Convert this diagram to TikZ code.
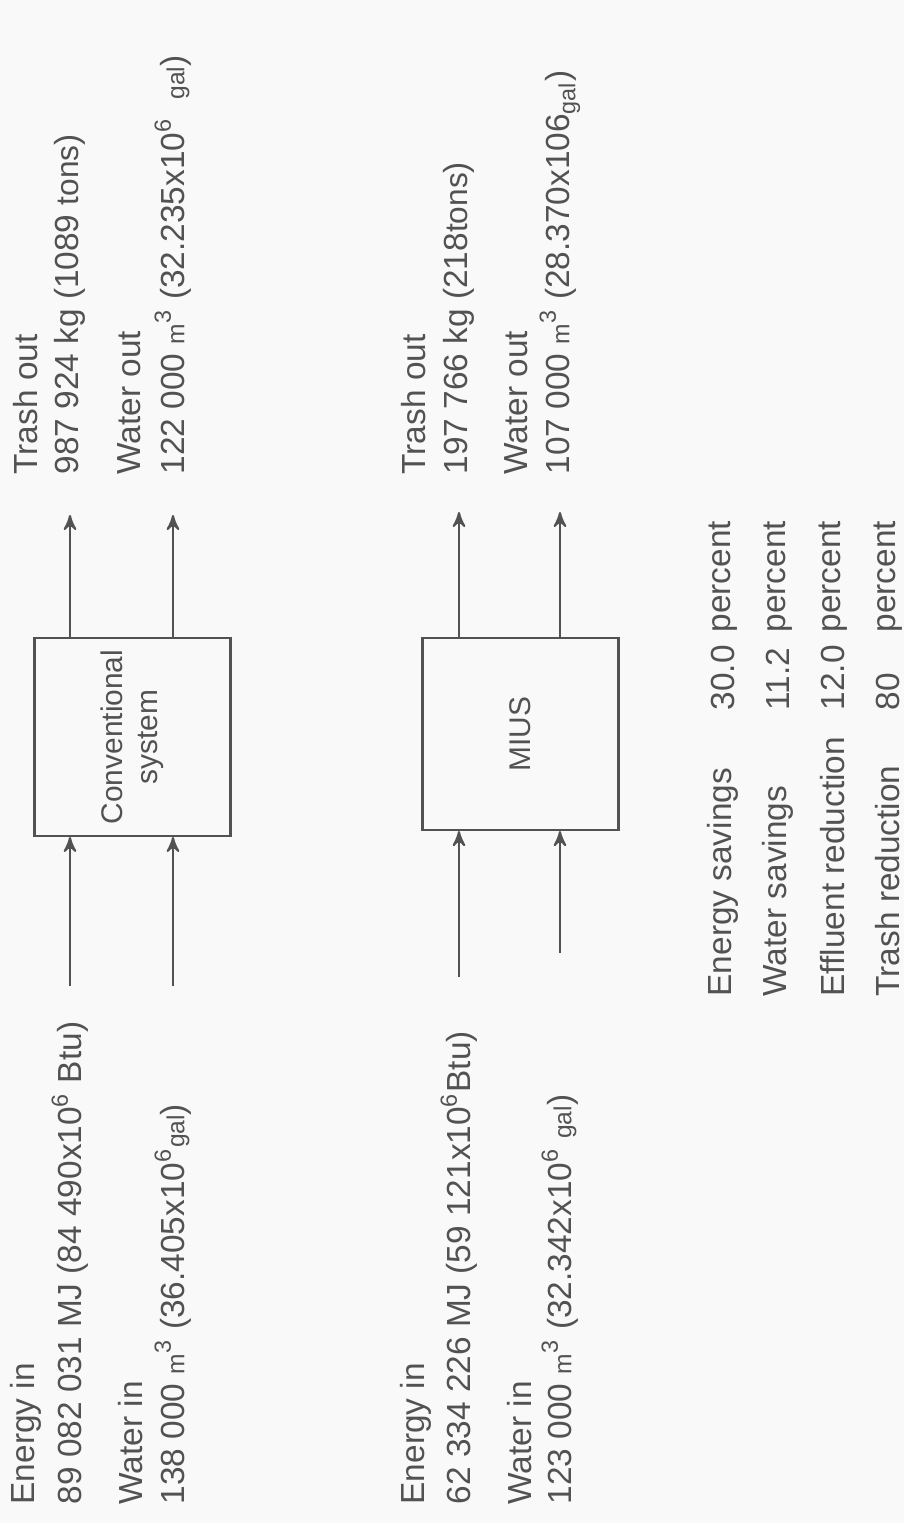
\documentclass[tikz,border=0pt]{standalone}
\usepackage{fontspec}
\setmainfont{Liberation Sans}
\usetikzlibrary{arrows}
\usetikzlibrary{positioning}
\definecolor{ink}{rgb}{0.32, 0.32, 0.32}
\definecolor{paper}{rgb}{0.975, 0.975, 0.975}
\tikzset{lbl/.style = {anchor = west, inner sep = 0, text = ink, font = \fontsize{9.5}{11}\selectfont}}
\tikzset{sysbox/.style = {draw = ink, line width = 0.6, minimum width = 1.92cm, minimum height = 1.96cm, align = center, text = ink, font = \fontsize{8.5}{10}\selectfont}}
\tikzset{flow/.style = {draw = ink, line width = 0.6, ->, >=stealth'}}
\newcommand{\sm}[1]{{\scriptsize #1}}

\begin{document}
\begin{tikzpicture}
  \begin{scope}[rotate = 90, transform shape]
    \useasboundingbox (0, 0) rectangle (15.23, 9.04);
    \fill [paper] (0, 0) rectangle (15.23, 9.04);

    % conventional system
    \node [sysbox] (conv) at (7.86, 7.715) {Conventional\\system};
    \node [lbl] (convEin) at (0.18, 8.78) {Energy in};
    \node [lbl] (convEval) at (0.18, 8.34) {89 082 031 MJ (84 490x10\textsuperscript{6} Btu)};
    \node [lbl] (convWin) at (0.18, 7.73) {Water in};
    \node [lbl] (convWval) at (0.18, 7.31) {138 000 \sm{m}\textsuperscript{3} (36.405x10\textsuperscript{6}\sm{gal})};
    \node [lbl] (convTout) at (10.48, 8.78) {Trash out};
    \node [lbl] (convTval) at (10.48, 8.34) {987 924 kg (1089 {\small tons})};
    \node [lbl] (convWout) at (10.48, 7.75) {Water out};
    \node [lbl] (convWoval) at (10.48, 7.31) {122 000 \sm{m}\textsuperscript{3} (32.235x10\textsuperscript{6}\ \ \sm{gal})};
    \coordinate (convE) at (5.37, 8.34);
    \coordinate (convW) at (5.37, 7.31);
    \coordinate (convT) at (10.08, 8.34);
    \coordinate (convO) at (10.08, 7.31);
    % (a -| b) picks the box edge in the turned scope
    \draw [flow] (convE) -- (convE -| conv.west);
    \draw [flow] (convW) -- (convW -| conv.west);
    \draw [flow] (convT -| conv.east) -- (convT);
    \draw [flow] (convO -| conv.east) -- (convO);

    % MIUS
    \node [sysbox] (mius) at (7.89, 3.835) {MIUS};
    \node [lbl] (miusEin) at (0.18, 4.88) {Energy in};
    \node [lbl] (miusEval) at (0.18, 4.45) {62 334 226 MJ (59 121x10\textsuperscript{6}Btu)};
    \node [lbl] (miusWin) at (0.18, 3.84) {Water in};
    \node [lbl] (miusWval) at (0.18, 3.44) {123 000 \sm{m}\textsuperscript{3} (32.342x10\textsuperscript{6} \sm{gal})};
    \node [lbl] (miusTout) at (10.48, 4.90) {Trash out};
    \node [lbl] (miusTval) at (10.48, 4.45) {197 766 kg (218{\small tons})};
    \node [lbl] (miusWout) at (10.48, 3.88) {Water out};
    \node [lbl] (miusWoval) at (10.48, 3.44) {107 000 \sm{m}\textsuperscript{3} (28.370x106\textsubscript{gal})};
    \coordinate (miusE) at (5.46, 4.45);
    \coordinate (miusW) at (5.70, 3.44);
    \coordinate (miusT) at (10.11, 4.45);
    \coordinate (miusO) at (10.11, 3.44);
    \draw [flow] (miusE) -- (miusE -| mius.west);
    \draw [flow] (miusW) -- (miusW -| mius.west);
    \draw [flow] (miusT -| mius.east) -- (miusT);
    \draw [flow] (miusO -| mius.east) -- (miusO);

    % savings
    \foreach \what/\amount [count = \i] in {Energy savings/30.0, Water savings/11.2, Effluent reduction/12.0, Trash reduction/80} {
      \node [lbl] (save\i) at (5.26, 2.36 - 0.55*\i) {\what};
      \node [lbl] (amount\i) at (8.12, 2.36 - 0.55*\i) {\amount};
      \node [lbl] (pct\i) at (8.90, 2.36 - 0.55*\i) {percent};
    }
  \end{scope}
\end{tikzpicture}
\end{document}
